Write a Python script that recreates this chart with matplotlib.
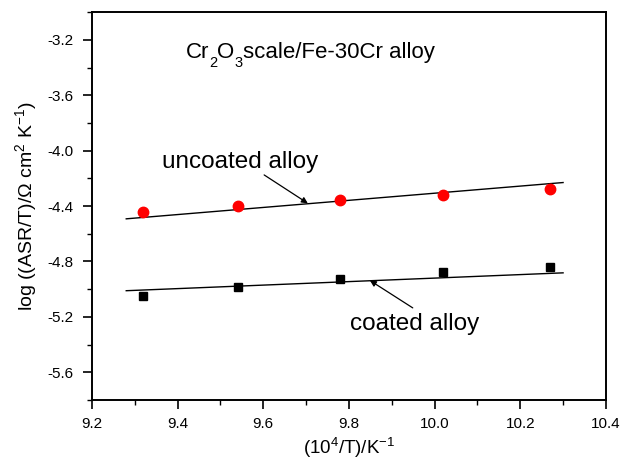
import matplotlib
matplotlib.use("Agg")
import matplotlib.pyplot as plt
from matplotlib.ticker import MultipleLocator, FormatStrFormatter
from matplotlib.transforms import offset_copy

plt.rcParams['font.family'] = ['Liberation Sans', 'DejaVu Sans']
plt.rcParams['mathtext.fontset'] = 'custom'
plt.rcParams['mathtext.rm'] = 'Liberation Sans'
plt.rcParams['mathtext.it'] = 'Liberation Sans:italic'

# Data
inv_T = [9.32, 9.54, 9.78, 10.02, 10.27]
uncoated = [-4.445, -4.397, -4.359, -4.318, -4.278]
coated = [-5.049, -4.987, -4.930, -4.877, -4.837]

fit_x = [9.28, 10.30]
uncoated_fit = [-4.492, -4.230]
coated_fit = [-5.011, -4.882]

fig = plt.figure(figsize=(6.24, 4.65), dpi=100)
ax = fig.add_axes([0.1474, 0.1398, 0.8236, 0.834])

ax.plot(fit_x, uncoated_fit, color='black', lw=1.0)
ax.plot(fit_x, coated_fit, color='black', lw=1.0)
ax.plot(inv_T, uncoated, 'o', color='#ff0000', ms=7.5, mec='#ff0000')
ax.plot(inv_T, coated, 's', color='black', ms=6)

ax.set_xlim(9.2, 10.4)
ax.set_ylim(-5.8, -3.0)
ax.xaxis.set_major_locator(MultipleLocator(0.2))
ax.xaxis.set_minor_locator(MultipleLocator(0.1))
ax.set_yticks([-5.6, -5.2, -4.8, -4.4, -4.0, -3.6, -3.2])
ax.yaxis.set_minor_locator(MultipleLocator(0.2))
ax.tick_params(which='major', direction='out', length=6.5, width=1.2, labelsize=11, pad=6)
ax.tick_params(which='minor', direction='out', length=3.5, width=1.0)
ax.tick_params(axis='y', which='major', pad=7)
ax.tick_params(top=False, right=False)
ax.xaxis.set_major_formatter(FormatStrFormatter('%.1f'))
ax.yaxis.set_major_formatter(FormatStrFormatter('%.1f'))
for s in ax.spines.values():
    s.set_linewidth(1.4)

ax.set_xlabel(r'(10$^4$/T)/K$^{-1}$', fontsize=13.5, labelpad=3)
ax.set_ylabel(r'log ((ASR/T)/$\Omega$ cm$^2$ K$^{-1}$)', fontsize=14, labelpad=6)

# Title-like label built piece by piece (small, lowered subscripts)
fig.canvas.draw()
renderer = fig.canvas.get_renderer()
pieces = [('Cr', 0), ('2', 1), ('O', 0), ('3', 1), ('scale/Fe-30Cr alloy', 0)]
trans = ax.transData
dx = 0.0
for txt, sub in pieces:
    t = ax.text(9.4195, -3.329, txt,
                fontsize=10.5 if sub else 16, ha='left', va='baseline',
                transform=offset_copy(trans, fig=fig, x=dx, y=-7 if sub else 0, units='points'))
    bb = t.get_window_extent(renderer=renderer)
    dx += bb.width * 72.0 / fig.dpi

ax.text(9.363, -4.085, 'uncoated alloy', fontsize=17.5, ha='left', va='center')
ax.annotate('', xy=(9.704, -4.38), xytext=(9.602, -4.175),
            arrowprops=dict(arrowstyle='-|>', color='black', lw=0.9,
                            shrinkA=0, shrinkB=0, mutation_scale=9))

ax.text(9.802, -5.254, 'coated alloy', fontsize=17.5, ha='left', va='center')
ax.annotate('', xy=(9.849, -4.937), xytext=(9.949, -5.135),
            arrowprops=dict(arrowstyle='-|>', color='black', lw=0.9,
                            shrinkA=0, shrinkB=0, mutation_scale=9))

fig.savefig('out.png', dpi=100)
